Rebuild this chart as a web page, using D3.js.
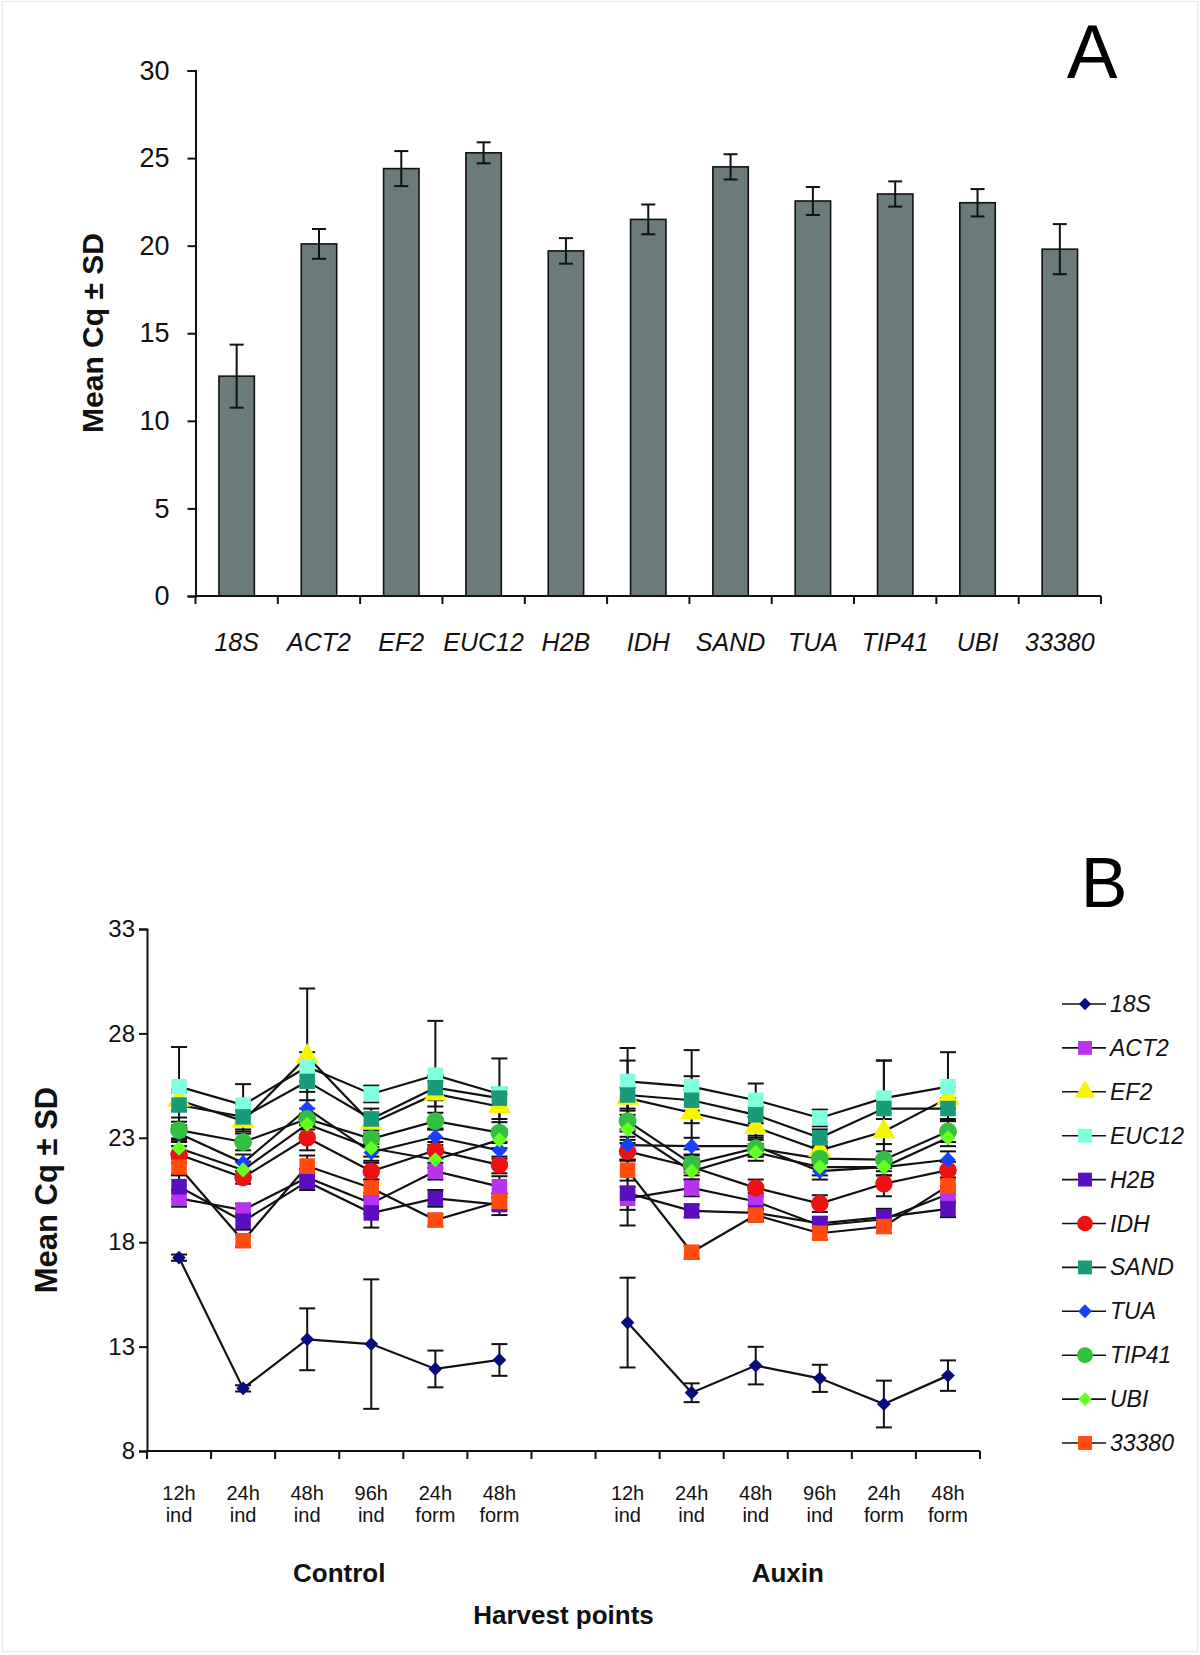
<!DOCTYPE html>
<html><head><meta charset="utf-8">
<script src="https://cdn.jsdelivr.net/npm/d3@7"></script>
<style>body{margin:0;background:#fff}svg{display:block}text{font-family:"Liberation Sans",Arial,sans-serif}</style>
</head><body>
<svg id="c" width="1200" height="1655"></svg>
<script>
// ---------- Panel A data ----------
const genes = ["18S","ACT2","EF2","EUC12","H2B","IDH","SAND","TUA","TIP41","UBI","33380"];
const meanCq = [12.55, 20.1, 24.4, 25.3, 19.7, 21.5, 24.5, 22.55, 22.95, 22.45, 19.8];
const sdCq   = [1.8, 0.85, 1.0, 0.6, 0.73, 0.85, 0.72, 0.8, 0.72, 0.78, 1.43];
const ticksA = [0, 5, 10, 15, 20, 25, 30];

// ---------- Panel B data ----------
const timeLabels  = ["12h","24h","48h","96h","24h","48h"];
const stageLabels = ["ind","ind","ind","ind","form","form"];
const groups = ["Control","Auxin"];
const ticksB = [8, 13, 18, 23, 28, 33];
const seriesNames = ["18S","ACT2","EF2","EUC12","H2B","IDH","SAND","TUA","TIP41","UBI","33380"];
// values: Control (6 points) then Auxin (6 points)
const v18S   = [17.26, 11.0, 13.35, 13.12, 11.93, 12.36, 14.15, 10.79, 12.09, 11.48, 10.25, 11.61];
const vACT2  = [20.1, 19.54, 21.1, 19.86, 21.4, 20.66, 20.1, 20.6, 19.95, 18.8, 19.1, 20.3];
const vEF2   = [24.8, 23.8, 26.9, 23.7, 25.1, 24.5, 24.9, 24.2, 23.5, 22.4, 23.3, 24.9];
const vEUC12 = [25.45, 24.57, 26.4, 25.1, 26.0, 25.1, 25.7, 25.45, 24.8, 23.95, 24.9, 25.45];
const vH2B   = [20.66, 19.0, 20.9, 19.4, 20.1, 19.8, 20.35, 19.5, 19.4, 18.9, 19.2, 19.6];
const vIDH   = [22.2, 21.1, 23.0, 21.4, 22.4, 21.7, 22.35, 21.6, 20.6, 19.85, 20.8, 21.45];
const vSAND  = [24.57, 24.0, 25.7, 23.9, 25.4, 24.9, 25.05, 24.8, 24.1, 23.0, 24.4, 24.4];
const vTUA   = [23.2, 21.8, 24.4, 22.3, 23.05, 22.4, 22.65, 22.6, 22.6, 21.4, 21.6, 21.95];
const vTIP41 = [23.37, 22.8, 23.9, 22.95, 23.8, 23.25, 23.8, 21.75, 22.5, 22.0, 21.95, 23.3];
const vUBI   = [22.5, 21.46, 23.65, 22.5, 21.95, 22.9, 23.4, 21.4, 22.3, 21.6, 21.6, 23.0];
const v33380 = [21.6, 18.07, 21.65, 20.6, 19.06, 19.95, 21.45, 17.52, 19.3, 18.43, 18.75, 20.7];
// standard deviations
const s18S   = [0.15, 0.15, 1.48, 3.1, 0.88, 0.76, 2.15, 0.45, 0.9, 0.65, 1.12, 0.73];
const sACT2  = [0.4, 0.3, 0.4, 0.5, 0.4, 0.5, 0.55, 0.4, 0.4, 0.3, 0.4, 0.4];
const sEF2   = [0.5, 0.5, 3.25, 0.5, 0.6, 0.6, 0.5, 1.75, 0.5, 0.4, 0.6, 0.5];
const sEUC12 = [1.9, 1.0, 0.7, 0.4, 2.6, 1.7, 1.6, 1.75, 0.8, 0.4, 1.8, 1.65];
const sH2B   = [0.6, 0.4, 0.4, 0.7, 0.4, 0.5, 1.55, 0.3, 0.4, 0.3, 0.4, 0.4];
const sIDH   = [0.4, 0.3, 0.6, 0.4, 0.4, 0.4, 0.4, 0.4, 0.4, 0.4, 0.6, 0.4];
const sSAND  = [0.6, 0.6, 0.5, 0.5, 0.6, 0.5, 1.65, 0.5, 0.4, 0.4, 2.3, 0.5];
const sTUA   = [0.4, 0.4, 0.4, 0.4, 0.4, 0.4, 0.4, 0.4, 0.5, 0.4, 0.4, 0.4];
const sTIP41 = [0.4, 0.4, 0.5, 0.4, 0.4, 0.5, 0.5, 0.4, 0.4, 0.4, 0.4, 0.5];
const sUBI   = [0.4, 0.4, 0.5, 0.4, 0.4, 0.4, 0.5, 0.4, 0.4, 0.4, 0.4, 0.4];
const s33380 = [0.4, 0.3, 0.5, 0.4, 0.3, 0.4, 0.5, 0.3, 0.3, 0.3, 0.3, 0.4];

const seriesVals = [v18S,vACT2,vEF2,vEUC12,vH2B,vIDH,vSAND,vTUA,vTIP41,vUBI,v33380];
const seriesSds  = [s18S,sACT2,sEF2,sEUC12,sH2B,sIDH,sSAND,sTUA,sTIP41,sUBI,s33380];
const colors  = ["#0a0a80","#b833f0","#f5f500","#80ffdf","#5a0fbf","#ee1111","#1a9a78","#1a40ff","#33c040","#66ff22","#ff4a10"];
const shapes  = ["diamond","square","triangle","square","square","circle","square","diamond","circle","diamond","square"];
const sizes   = [95, 240, 230, 240, 240, 240, 240, 120, 250, 115, 240];

const svg = d3.select("#c");
svg.append("rect").attr("x",2.5).attr("y",1.5).attr("width",1195).attr("height",1650)
  .attr("fill","none").attr("stroke","#ececec").attr("stroke-width",1.5);

// ================= Panel A =================
const xA = d3.scaleBand().domain(genes).range([195.5, 1101]).padding(0);
const yA = d3.scaleLinear().domain([0, 30]).range([596, 70.5]);
const gA = svg.append("g");
const barW = xA.bandwidth() * 0.43;
gA.selectAll("rect.bar").data(genes).join("rect").attr("class","bar")
  .attr("x", d => xA(d) + (xA.bandwidth() - barW) / 2)
  .attr("y", (d,i) => yA(meanCq[i]))
  .attr("width", barW)
  .attr("height", (d,i) => yA(0) - yA(meanCq[i]))
  .attr("fill", "#6b7b7b").attr("stroke", "#111").attr("stroke-width", 1.6);
// error bars A
genes.forEach((g,i) => {
  const cx = xA(g) + xA.bandwidth()/2;
  const y1 = yA(meanCq[i] + sdCq[i]), y2 = yA(meanCq[i] - sdCq[i]);
  gA.append("line").attr("x1",cx).attr("x2",cx).attr("y1",y1).attr("y2",y2).attr("stroke","#111").attr("stroke-width",2);
  [y1,y2].forEach(y => gA.append("line").attr("x1",cx-7).attr("x2",cx+7).attr("y1",y).attr("y2",y).attr("stroke","#111").attr("stroke-width",2));
});
// y axis A
const yAxisA = d3.axisLeft(yA).tickValues(ticksA).tickSize(8).tickPadding(18).tickFormat(d3.format("d"));
const yAg = gA.append("g").attr("transform","translate(195.5,0)").call(yAxisA);
yAg.select(".domain").attr("stroke","#111").attr("stroke-width",2);
yAg.selectAll(".tick line").attr("stroke","#111").attr("stroke-width",2);
yAg.selectAll(".tick text").attr("font-size",27).attr("fill","#111").style("font-family","Liberation Sans, Arial");
// x axis A (ticks at band boundaries)
gA.append("line").attr("x1",195.5).attr("x2",1101).attr("y1",596).attr("y2",596).attr("stroke","#111").attr("stroke-width",2);
genes.concat(["end"]).forEach((g,i) => {
  const x = 195.5 + i * xA.bandwidth();
  gA.append("line").attr("x1",x).attr("x2",x).attr("y1",596).attr("y2",604).attr("stroke","#111").attr("stroke-width",2);
});
gA.selectAll("text.xl").data(genes).join("text").attr("class","xl")
  .attr("x", d => xA(d) + xA.bandwidth()/2).attr("y", 651)
  .attr("text-anchor","middle").attr("font-size",25).attr("font-style","italic").attr("fill","#111").text(d => d);
gA.append("text").attr("transform","translate(103,333) rotate(-90)").attr("text-anchor","middle")
  .attr("font-size",30).attr("font-weight","bold").attr("fill","#111").text("Mean Cq ± SD");
svg.append("text").attr("x",1092).attr("y",78).attr("text-anchor","middle").attr("font-size",76).attr("fill","#000").text("A");

// ================= Panel B =================
const bandKeys = d3.range(13).map(String);
const xB = d3.scaleBand().domain(bandKeys).range([147, 980]).padding(0);
const idxToBand = i => (i < 6 ? i : i + 1);
const yB = d3.scaleLinear().domain([8, 33]).range([1451, 929]);
const gB = svg.append("g");
// y axis B
const yAxisB = d3.axisLeft(yB).tickValues(ticksB).tickSize(8).tickPadding(4).tickFormat(d3.format("d"));
const yBg = gB.append("g").attr("transform","translate(147,0)").call(yAxisB);
yBg.select(".domain").attr("stroke","#111").attr("stroke-width",2);
yBg.selectAll(".tick line").attr("stroke","#111").attr("stroke-width",2);
yBg.selectAll(".tick text").attr("font-size",24).attr("fill","#111").style("font-family","Liberation Sans, Arial");
// x axis B
gB.append("line").attr("x1",147).attr("x2",980).attr("y1",1451).attr("y2",1451).attr("stroke","#111").attr("stroke-width",2);
d3.range(14).forEach(i => {
  const x = 147 + i * xB.bandwidth();
  gB.append("line").attr("x1",x).attr("x2",x).attr("y1",1451).attr("y2",1459).attr("stroke","#111").attr("stroke-width",2);
});
for (let k = 0; k < 12; k++) {
  const cx = xB(String(idxToBand(k))) + xB.bandwidth()/2;
  gB.append("text").attr("x",cx).attr("y",1500).attr("text-anchor","middle").attr("font-size",20).attr("fill","#111").text(timeLabels[k % 6]);
  gB.append("text").attr("x",cx).attr("y",1522).attr("text-anchor","middle").attr("font-size",20).attr("fill","#111").text(stageLabels[k % 6]);
}
groups.forEach((g,gi) => {
  const cx = (xB(String(gi*7)) + xB(String(gi*7+5)) + xB.bandwidth()) / 2;
  gB.append("text").attr("x",cx).attr("y",1582).attr("text-anchor","middle").attr("font-size",26).attr("font-weight","bold").attr("fill","#111").text(g);
});
gB.append("text").attr("x", 147 + 6.5 * xB.bandwidth()).attr("y",1624).attr("text-anchor","middle").attr("font-size",26).attr("font-weight","bold").attr("fill","#111").text("Harvest points");
gB.append("text").attr("transform","translate(57,1190) rotate(-90)").attr("text-anchor","middle")
  .attr("font-size",31).attr("font-weight","bold").attr("fill","#111").text("Mean Cq ± SD");
svg.append("text").attr("x",1104).attr("y",907).attr("text-anchor","middle").attr("font-size",70).attr("fill","#000").text("B");

const symType = {diamond: d3.symbolSquare, square: d3.symbolSquare, triangle: d3.symbolTriangle, circle: d3.symbolCircle};
const rot = s => (s === "diamond" ? " rotate(45)" : "");
const px = k => xB(String(idxToBand(k))) + xB.bandwidth()/2;
// lines and error bars
seriesVals.forEach((vals, si) => {
  gB.append("path").attr("d", d3.line().x((d,k) => px(k)).y(d => yB(d))(vals.slice(0,6))).attr("fill","none").attr("stroke","#111").attr("stroke-width",2.2);
  gB.append("path").attr("d", d3.line().x((d,k) => px(k+6)).y(d => yB(d))(vals.slice(6))).attr("fill","none").attr("stroke","#111").attr("stroke-width",2.2);
  vals.forEach((v,k) => {
    const cx = px(k), sd = seriesSds[si][k];
    const y1 = yB(v + sd), y2 = yB(v - sd);
    gB.append("line").attr("x1",cx).attr("x2",cx).attr("y1",y1).attr("y2",y2).attr("stroke","#111").attr("stroke-width",2);
    [y1,y2].forEach(y => gB.append("line").attr("x1",cx-8).attr("x2",cx+8).attr("y1",y).attr("y2",y).attr("stroke","#111").attr("stroke-width",2));
  });
});
// markers
seriesVals.forEach((vals, si) => {
  gB.selectAll(null).data(vals).join("path")
    .attr("d", d3.symbol().type(symType[shapes[si]]).size(sizes[si]))
    .attr("transform", (d,k) => `translate(${px(k)},${yB(d)})${rot(shapes[si])}`)
    .attr("fill", colors[si]);
});
// legend
const legY = d3.scalePoint().domain(seriesNames).range([1004, 1443]);
seriesNames.forEach((n, si) => {
  const y = legY(n);
  svg.append("line").attr("x1",1062).attr("x2",1106).attr("y1",y).attr("y2",y).attr("stroke","#111").attr("stroke-width",1.6);
  svg.append("path").attr("d", d3.symbol().type(symType[shapes[si]]).size(sizes[si]*0.8)).attr("transform",`translate(1085,${y})${rot(shapes[si])}`).attr("fill",colors[si]);
  svg.append("text").attr("x",1110).attr("y",y+8).attr("font-size",23).attr("font-style","italic").attr("fill","#111").text(n);
});
</script>
</body></html>
